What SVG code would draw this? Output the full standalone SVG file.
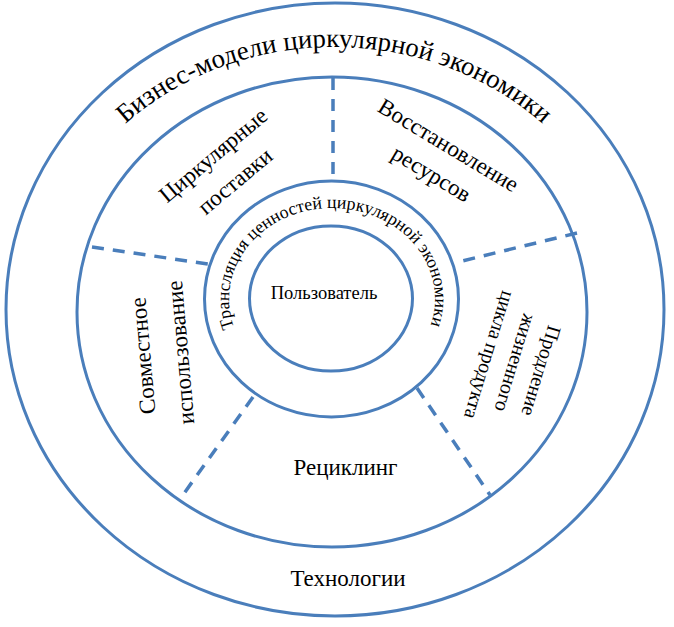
<svg xmlns="http://www.w3.org/2000/svg" width="674" height="627" viewBox="0 0 674 627" font-family="'Liberation Serif', 'DejaVu Serif', serif">
<style>
.ring{fill:none;stroke:#4A7EBB;stroke-width:3}
.div{fill:none;stroke:#4A7EBB;stroke-width:3.5;stroke-dasharray:12 9}
text, textPath{font-family:'Liberation Serif', 'DejaVu Serif', serif;fill:#000}
.big{font-size:26.8px}
.seg{font-size:23px;text-anchor:middle}
.segs{font-size:20px;text-anchor:middle}
.mid{font-size:17.8px}
.ctr{font-size:18.5px;text-anchor:middle}
</style>
<defs>
<path id="arcOuter" d="M 91.5 464 A 296 265 0 1 1 576.5 464"/>
<path id="arcInner" d="M 242.8 344.5 A 103 91 0 1 1 421.2 344.5"/>
</defs>
<rect width="674" height="627" fill="#fff"/>
<g id="technologies">
<ellipse class="ring" cx="335" cy="309.5" rx="329" ry="306.5"/>
<text class="big"><textPath href="#arcOuter" startOffset="50%" text-anchor="middle">Бизнес-модели циркулярной экономики</textPath></text>
<text class="seg" x="348" y="586">Технологии</text>
</g>
<g id="business-models">
<ellipse class="ring" cx="332" cy="312" rx="255" ry="235"/>
</g>
<g id="translation">
<ellipse class="ring" cx="331.5" cy="299" rx="127" ry="118"/>
<text class="mid"><textPath href="#arcInner" startOffset="49.7%" text-anchor="middle">Трансляция ценностей циркулярной экономики</textPath></text>
</g>
<g id="user">
<ellipse class="ring" cx="331" cy="298.5" rx="81.5" ry="72.5"/>
<text class="ctr" x="324" y="299">Пользователь</text>
</g>
<g id="circular-supply" transform="translate(229,174) rotate(-40)">
<text class="seg" x="0" y="-17">Циркулярные</text>
<text class="seg" x="0" y="17">поставки</text>
</g>
<g id="resource-recovery" transform="translate(436,166) rotate(31)">
<text class="seg" x="0" y="-16.5">Восстановление</text>
<text class="seg" x="0" y="16.5">ресурсов</text>
</g>
<g id="sharing" transform="translate(164,354) rotate(-95)">
<text class="seg" x="0" y="-13.6">Совместное</text>
<text class="seg" x="0" y="24.2">использование</text>
</g>
<g id="life-extension" transform="translate(509,361) rotate(107)">
<text class="segs" x="0" y="-27">Продление</text>
<text class="segs" x="0" y="0">жизненного</text>
<text class="segs" x="0" y="27">цикла продукта</text>
</g>
<g id="recycling">
<text class="seg" x="345.5" y="475">Рециклинг</text>
</g>
<g id="connectors">
<line class="div" x1="333" y1="78" x2="333" y2="181"/>
<line class="div" x1="92" y1="247" x2="208" y2="264"/>
<line class="div" x1="577" y1="233" x2="458" y2="262"/>
<line class="div" x1="253" y1="397" x2="180" y2="499"/>
<line class="div" x1="417" y1="388" x2="490" y2="495"/>
</g>
</svg>
